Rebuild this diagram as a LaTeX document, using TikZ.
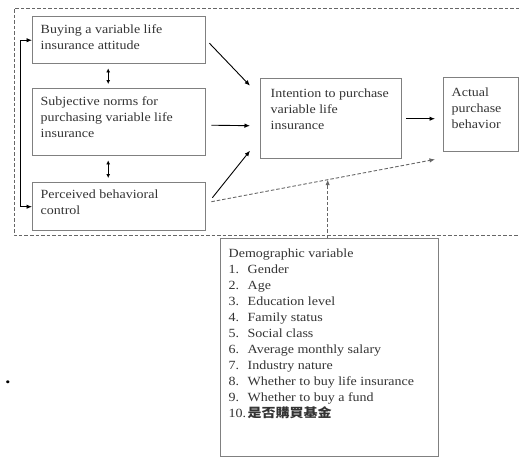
\documentclass[tikz,border=0pt]{standalone}
\usepackage{fontspec}
\setmainfont{Liberation Serif}[FakeStretch=1.12]
\newfontfamily\cjk{Noto Sans CJK TC}[FakeStretch=1.12]
\usetikzlibrary{arrows.meta,calc}
\newcommand{\blktext}[3]{\parbox[t][#2][t]{#1}{\raggedright #3}}
\newcommand{\itm}[1]{\makebox[19pt][l]{#1}}

\begin{document}
\begin{tikzpicture}[x=1pt,y=-1pt,
  font=\fontsize{12.5}{16}\selectfont,
  blk/.style={draw=black!50,line width=1.4pt,anchor=north west,inner xsep=8pt,inner ysep=7.5pt,text=black!80},
  arr/.style={-{Latex[length=5.5pt,width=4.5pt]},line width=0.9pt},
  darr/.style={{Latex[length=4pt,width=4pt]}-{Latex[length=4pt,width=4pt]},line width=0.9pt},
  dsh/.style={dashed,dash pattern=on 3.5pt off 2pt,line width=0.9pt,black!60}]
  \useasboundingbox (0,0) rectangle (519,456);
  % dashed frame round the model
  \draw[dsh] (519,8) -| (14,235) -- (519,235);

  \node[blk] (att) at (32,16) {\blktext{157pt}{32pt}{Buying a variable life\\ insurance attitude}};
  \node[blk] (norm) at (32,88) {\blktext{157pt}{52pt}{Subjective norms for\\ purchasing variable life\\ insurance}};
  \node[blk] (pbc) at (32,182) {\blktext{157pt}{33pt}{Perceived behavioral\\ control}};
  \node[blk,inner xsep=10pt,inner ysep=10pt] (int) at (260,78) {\blktext{121pt}{60pt}{Intention to purchase\\ variable life\\ insurance}};
  \node[blk,inner ysep=10pt] (act) at (443,77) {\blktext{59pt}{54pt}{Actual\\ purchase\\ behavior}};
  \node[blk,inner ysep=10pt] (demo) at (220,238) {\blktext{202pt}{198pt}{Demographic variable\\
    \itm{1.}Gender\\
    \itm{2.}Age\\
    \itm{3.}Education level\\
    \itm{4.}Family status\\
    \itm{5.}Social class\\
    \itm{6.}Average monthly salary\\
    \itm{7.}Industry nature\\
    \itm{8.}Whether to buy life insurance\\
    \itm{9.}Whether to buy a fund\\
    \itm{10.}{\cjk\bfseries 是否購買基金}}};
  \node[font=\fontsize{18}{18}\bfseries\selectfont] (dot) at (8,382) {.};

  % left feed line
  \coordinate (fbt) at ($(att.west)+(-12,0)$);
  \coordinate (fbb) at ($(pbc.west)+(-12,0)$);
  \draw[line width=0.9pt] (fbt) -- (fbb);
  \draw[arr] (fbt) -- (att.west);
  \draw[arr] (fbb) -- (pbc.west);

  \draw[darr,shorten <=4pt,shorten >=4pt] ($(att.south)+(-11,0)$) -- ($(norm.north)+(-11,0)$);
  \draw[darr,shorten <=4pt,shorten >=4pt] ($(norm.south)+(-11,0)$) -- ($(pbc.north)+(-11,0)$);

  \draw[arr] ($(att.east)+(3,3)$) -- ($(int.west)+(-10,-33)$);
  \draw[arr] ($(norm.east)+(5,3)$) -- ($(int.west)+(-10,7)$);
  \draw[arr] ($(pbc.east)+(6,-9)$) -- ($(int.west)+(-10,32)$);
  \draw[arr] ($(int.east)+(4,0)$) -- ($(int.east -| act.west)+(-8,0)$);

  % dashed links
  \coordinate (ds) at ($(pbc.east)+(5,-5)$);
  \coordinate (de) at ($(act.south west)+(-8,7)$);
  \draw[dsh,arr] (ds) -- (de);
  \coordinate (dm) at ($(ds)!0.52!(de)$);
  \draw[dsh,arr] (dm |- demo.north) -- (dm);
\end{tikzpicture}
\end{document}
